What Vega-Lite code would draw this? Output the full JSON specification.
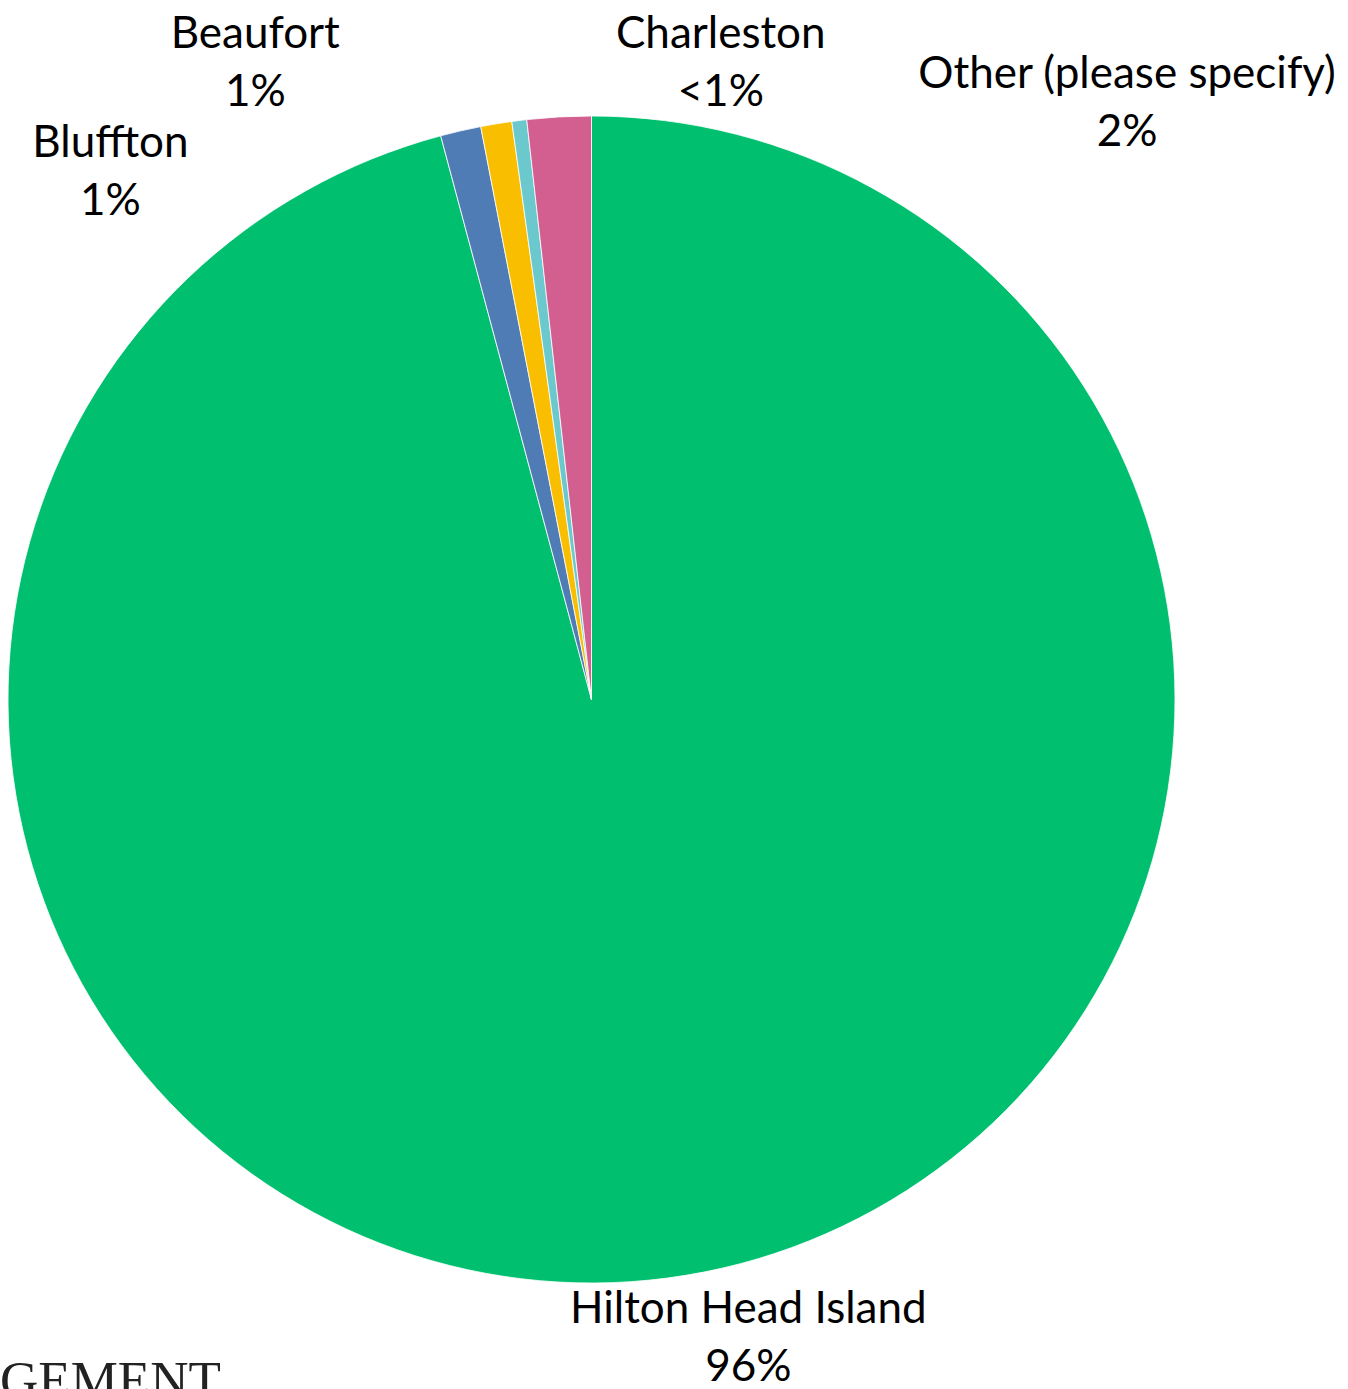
{
  "$schema": "https://vega.github.io/schema/vega-lite/v6.json",
  "width": 1183,
  "height": 1399,
  "autosize": "none",
  "padding": {"left": 0, "top": 0, "right": 165, "bottom": 0},
  "background": "white",
  "view": {"stroke": null},
  "data": {
    "values": [
      {"category": "Hilton Head Island", "value": 95.84, "pct": "96%", "ord": 1},
      {"category": "Bluffton", "value": 1.12, "pct": "1%", "ord": 2},
      {"category": "Beaufort", "value": 0.86, "pct": "1%", "ord": 3},
      {"category": "Charleston", "value": 0.41, "pct": "<1%", "ord": 4},
      {"category": "Other (please specify)", "value": 1.77, "pct": "2%", "ord": 5}
    ]
  },
  "transform": [
    {"stack": "value", "groupby": [], "sort": [{"field": "ord", "order": "ascending"}], "as": ["v0", "v1"]},
    {"calculate": "(datum.v0 + datum.v1) / 2", "as": "mid"},
    {"calculate": "datum.category + '\\n' + datum.pct", "as": "label"}
  ],
  "layer": [
    {
      "mark": {"type": "arc", "outerRadius": 583.5, "stroke": "white", "strokeWidth": 0.8},
      "encoding": {
        "theta": {"field": "v0", "type": "quantitative", "scale": {"domain": [0, 100]}},
        "theta2": {"field": "v1"},
        "color": {
          "field": "category",
          "type": "nominal",
          "scale": {
            "domain": ["Hilton Head Island", "Bluffton", "Beaufort", "Charleston", "Other (please specify)"],
            "range": ["#00BF6F", "#507CB6", "#F9BE00", "#6BC8CD", "#D25F90"]
          },
          "legend": null
        }
      }
    },
    {
      "transform": [{"filter": "datum.category === 'Hilton Head Island'"}],
      "mark": {"type": "text", "radius": 620, "dx": 76, "dy": -4, "font": "Lato", "fontSize": 44, "lineHeight": 58, "lineBreak": "\n", "align": "center", "baseline": "middle", "color": "black"},
      "encoding": {"theta": {"field": "mid", "type": "quantitative"}, "text": {"field": "label"}}
    },
    {
      "transform": [{"filter": "datum.category === 'Bluffton'"}],
      "mark": {"type": "text", "radius": 620, "dx": -342, "dy": 49, "font": "Lato", "fontSize": 44, "lineHeight": 58, "lineBreak": "\n", "align": "center", "baseline": "middle", "color": "black"},
      "encoding": {"theta": {"field": "mid", "type": "quantitative"}, "text": {"field": "label"}}
    },
    {
      "transform": [{"filter": "datum.category === 'Beaufort'"}],
      "mark": {"type": "text", "radius": 620, "dx": -235, "dy": -53, "font": "Lato", "fontSize": 44, "lineHeight": 58, "lineBreak": "\n", "align": "center", "baseline": "middle", "color": "black"},
      "encoding": {"theta": {"field": "mid", "type": "quantitative"}, "text": {"field": "label"}}
    },
    {
      "transform": [{"filter": "datum.category === 'Charleston'"}],
      "mark": {"type": "text", "radius": 620, "dx": 206, "dy": -49, "font": "Lato", "fontSize": 44, "lineHeight": 58, "lineBreak": "\n", "align": "center", "baseline": "middle", "color": "black"},
      "encoding": {"theta": {"field": "mid", "type": "quantitative"}, "text": {"field": "label"}}
    },
    {
      "transform": [{"filter": "datum.category === 'Other (please specify)'"}],
      "mark": {"type": "text", "radius": 620, "dx": 570, "dy": -5, "font": "Lato", "fontSize": 44, "lineHeight": 58, "lineBreak": "\n", "align": "center", "baseline": "middle", "color": "black"},
      "encoding": {"theta": {"field": "mid", "type": "quantitative"}, "text": {"field": "label"}}
    },
    {
      "transform": [{"filter": "datum.ord === 1"}],
      "mark": {"type": "text", "x": 0, "y": 1398, "font": "Liberation Serif", "fontSize": 53, "align": "left", "baseline": "alphabetic", "color": "#222222"},
      "encoding": {"text": {"value": "GEMENT"}}
    }
  ]
}
